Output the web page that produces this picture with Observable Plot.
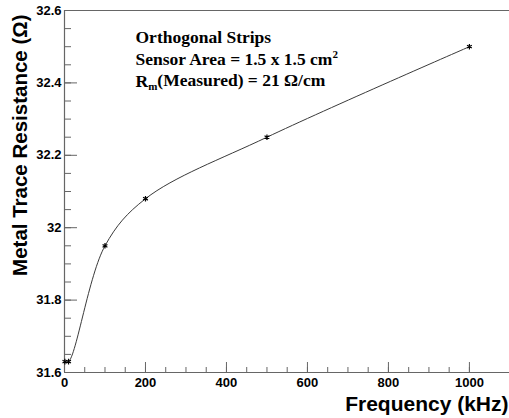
<!DOCTYPE html>
<html><head><meta charset="utf-8">
<script src="https://cdn.jsdelivr.net/npm/d3@7"></script>
<script src="https://cdn.jsdelivr.net/npm/@observablehq/plot@0.6"></script>
<style>
body{margin:0;background:#fff}
#chart svg{display:block;background:#fff}
</style>
</head><body><div id="chart"></div>
<script>
// data
const freq = [1, 10, 100, 200, 500, 1000];
const resistance = [31.63, 31.63, 31.95, 32.08, 32.25, 32.5];
// axes
const xDomain = [0, 1099];
const yDomain = [31.6, 32.6];
const xMajorTicks = [0, 200, 400, 600, 800, 1000];
const xTickLabels = ["0", "200", "400", "600", "800", "1000"];
const yMajorTicks = [31.6, 31.8, 32, 32.2, 32.4, 32.6];
const yTickLabels = ["31.6", "31.8", "32", "32.2", "32.4", "32.6"];
const xMinorTicks = d3.range(0, 1050, 50);
const yMinorTicks = d3.range(0, 21).map(i => 31.6 + i * 0.05);
const xTitle = "Frequency (kHz)";
const yTitle = "Metal Trace Resistance (Ω)";
const infoLine1 = "Orthogonal Strips";
const infoLine2 = "Sensor Area = 1.5 x 1.5 cm";
const infoLine2Sup = "2";
const infoLine3Main = "R";
const infoLine3Sub = "m";
const infoLine3Rest = "(Measured) = 21 Ω/cm";

const data = freq.map((f, i) => ({f, r: resistance[i]}));
const sans = "'Liberation Sans', Arial, sans-serif";
const serif = "'Liberation Serif', 'Times New Roman', serif";
const axisColor = "#666";
const infoSize = 17.5;

const chart = Plot.plot({
  width: 509,
  height: 418,
  marginLeft: 64,
  marginRight: 0,
  marginTop: 10,
  marginBottom: 46,
  style: {fontFamily: sans, background: "#fff", color: "#000"},
  x: {domain: xDomain, axis: null},
  y: {domain: yDomain, axis: null},
  marks: [
    // axis lines / frame
    Plot.ruleY([yDomain[1]], {stroke: axisColor, strokeWidth: 1}),
    Plot.ruleY([yDomain[0]], {stroke: axisColor, strokeWidth: 1.2}),
    Plot.ruleX([xDomain[0]], {stroke: axisColor, strokeWidth: 1.2}),
    // ticks (inward)
    Plot.axisX(xMinorTicks, {anchor: "bottom", tickSize: -5, tickFormat: () => "", label: null, stroke: axisColor}),
    Plot.axisX(xMajorTicks, {anchor: "bottom", tickSize: -10, tickFormat: () => "", label: null, stroke: axisColor}),
    Plot.axisY(yMinorTicks, {anchor: "left", tickSize: -7, tickFormat: () => "", label: null, stroke: axisColor}),
    Plot.axisY(yMajorTicks, {anchor: "left", tickSize: -13, tickFormat: () => "", label: null, stroke: axisColor}),
    // tick labels
    Plot.axisX(xMajorTicks, {anchor: "bottom", tickSize: 0, tickPadding: 5, label: null,
      tickFormat: (d, i) => xTickLabels[i], fontSize: 13, fontWeight: "bold"}),
    Plot.axisY(yMajorTicks, {anchor: "left", tickSize: 0, tickPadding: 3, label: null,
      tickFormat: (d, i) => yTickLabels[i], fontSize: 13, fontWeight: "bold"}),
    // axis titles
    Plot.text([xTitle], {frameAnchor: "bottom-right", text: d => d, textAnchor: "end",
      lineAnchor: "bottom", dx: -1, dy: 38, fontSize: 21, fontWeight: "bold"}),
    Plot.text([yTitle], {frameAnchor: "top-left", text: d => d, textAnchor: "end", rotate: -90,
      lineAnchor: "middle", dx: -44, dy: 4, fontSize: 20.5, fontWeight: "bold"}),
    // info box
    Plot.text([infoLine1], {frameAnchor: "top-left", text: d => d, textAnchor: "start",
      lineAnchor: "bottom", dx: 71, dy: 32, fontSize: infoSize, fontWeight: "bold", fontFamily: serif}),
    Plot.text([infoLine2], {frameAnchor: "top-left", text: d => d, textAnchor: "start",
      lineAnchor: "bottom", dx: 71, dy: 54, fontSize: infoSize, fontWeight: "bold", fontFamily: serif}),
    Plot.text([infoLine3Main + infoLine3Rest], {frameAnchor: "top-left", text: d => d, textAnchor: "start",
      lineAnchor: "bottom", dx: 71, dy: 76, fontSize: infoSize, fontWeight: "bold", fontFamily: serif}),
    // curve and markers
    Plot.line(data, {x: "f", y: "r", curve: "catmull-rom", stroke: "#3a3a3a", strokeWidth: 1}),
    Plot.dot(data, {x: "f", y: "r", symbol: "asterisk", r: 2.6, stroke: "#000", strokeWidth: 1.2})
  ]
});

// superscript / subscript via tspans
d3.select(chart).selectAll("text").each(function() {
  const t = d3.select(this);
  const s = this.textContent;
  if (s === infoLine2) {
    t.append("tspan").attr("dy", "-0.55em").attr("font-size", 11).text(infoLine2Sup);
  } else if (s === infoLine3Main + infoLine3Rest) {
    t.text(null);
    t.append("tspan").text(infoLine3Main);
    t.append("tspan").attr("dy", "0.3em").attr("font-size", 11).text(infoLine3Sub);
    t.append("tspan").attr("dy", "-0.2em").text(infoLine3Rest);
  }
});

document.getElementById("chart").appendChild(chart);
</script>
</body></html>
